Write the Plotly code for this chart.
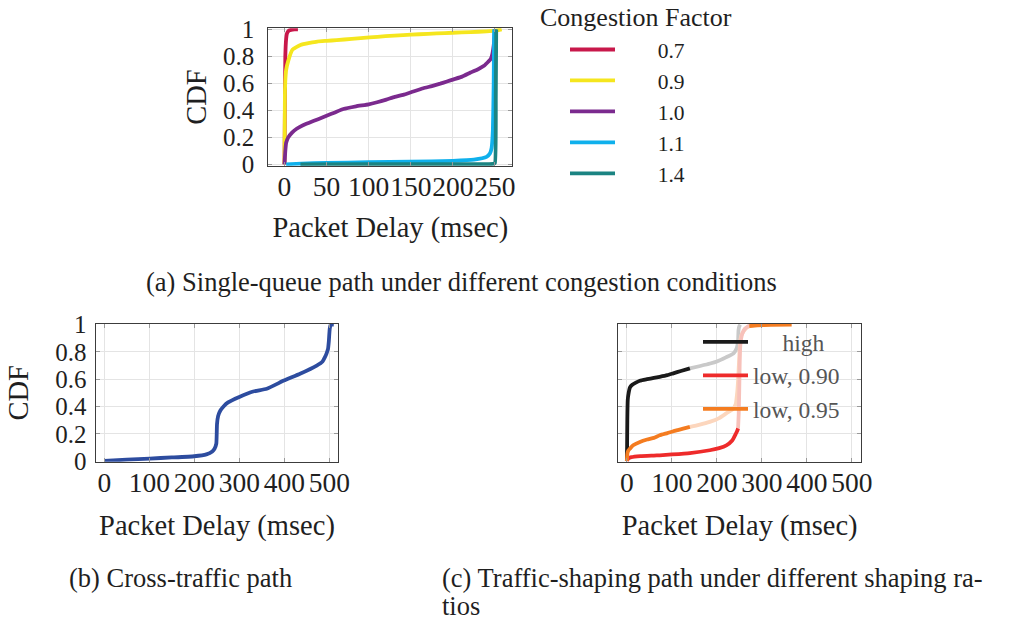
import plotly.graph_objects as go

FONT = "Liberation Serif"
W, H = 1010, 621

# ---- (a) single-queue path, CDF of packet delay per congestion factor ----
cf_names = ["0.7", "0.9", "1.0", "1.1", "1.4"]
cf_colors = ["#c8184b", "#f5e61e", "#7b2a8e", "#0fb0ec", "#1b8482"]

cf07_x = [0, 0.3, 0.6, 1, 2, 3, 5, 8, 12, 16]
cf07_y = [0, 0.2, 0.5, 0.8, 0.93, 0.97, 0.99, 0.997, 1.0, 1.0]

cf09_x = [0, 0.3, 0.6, 1, 2, 4.5, 9.5, 19, 30, 39, 50, 62, 80, 101, 120, 141,
          160, 181, 200, 221, 240, 250, 254, 258]
cf09_y = [0, 0.3, 0.55, 0.62, 0.7, 0.767, 0.85, 0.885, 0.9, 0.91, 0.915, 0.92,
          0.93, 0.94, 0.95, 0.958, 0.964, 0.97, 0.975, 0.98, 0.985, 0.99, 0.995, 1.0]

cf10_x = [0, 0.5, 1, 2, 4.5, 9, 14.5, 22, 30, 40, 50, 60, 70, 85, 100, 110, 121,
          131, 141, 153, 165, 175, 185, 193, 201, 211, 221, 230, 237, 242, 245,
          247, 248.5, 249.5, 250]
cf10_y = [0, 0.05, 0.1, 0.16, 0.2, 0.235, 0.264, 0.29, 0.31, 0.335, 0.36, 0.385,
          0.41, 0.43, 0.445, 0.46, 0.48, 0.5, 0.515, 0.54, 0.564, 0.58, 0.598,
          0.614, 0.63, 0.65, 0.68, 0.705, 0.73, 0.76, 0.78, 0.82, 0.88, 0.95, 1.0]

cf11_x = [2, 20, 50, 100, 150, 200, 225, 240, 244, 246, 247.5, 248.5, 249]
cf11_y = [0, 0.006, 0.01, 0.016, 0.02, 0.026, 0.035, 0.055, 0.08, 0.12, 0.25, 0.6, 1.0]

cf14_x = [19, 100, 200, 248, 250, 251, 251.5]
cf14_y = [0, 0.001, 0.002, 0.004, 0.01, 0.5, 1.0]

# ---- (b) cross-traffic path ----
cross_x = [0, 50, 101, 150, 200, 227, 240, 245, 249, 250.5, 253, 258, 265, 275,
           300, 331, 361, 399, 435, 472, 485, 490, 494, 497, 499, 500, 501, 503, 510]
cross_y = [0, 0.01, 0.018, 0.026, 0.035, 0.049, 0.07, 0.09, 0.127, 0.27, 0.33,
           0.37, 0.40, 0.43, 0.47, 0.51, 0.53, 0.59, 0.64, 0.70, 0.73, 0.76, 0.79,
           0.82, 0.88, 0.93, 0.97, 1.0, 1.0]
cross_color = "#2d4c9f"

# ---- (c) traffic-shaping path: solid part + faded part of each curve ----
shape_names = ["high", "low, 0.90", "low, 0.95"]
shape_colors = ["#1a1a1a", "#ee2b2b", "#f47c20"]
shape_faded = ["#c9c9c9", "#f7c1ba", "#fcd6bd"]

high_x = [0, 0.5, 1, 2, 4, 7, 12, 20, 29, 45, 60, 73, 90, 103, 120, 140]
high_y = [0, 0.1, 0.3, 0.45, 0.5, 0.54, 0.56, 0.575, 0.589, 0.6, 0.61, 0.618,
          0.63, 0.643, 0.66, 0.68]
high_fx = [140, 163, 185, 200, 220, 237, 244, 247, 248, 250, 252]
high_fy = [0.68, 0.697, 0.715, 0.73, 0.76, 0.79, 0.827, 0.88, 0.96, 0.99, 1.0]

low90_x = [0, 3, 10, 30, 60, 73, 100, 140, 184, 205, 221, 234, 242, 245, 247]
low90_y = [0, 0.018, 0.028, 0.036, 0.04, 0.042, 0.048, 0.058, 0.079, 0.095,
           0.115, 0.15, 0.2, 0.22, 0.24]
low90_fx = [247, 248.5, 249.5, 250.5, 252, 256, 262, 270, 277]
low90_fy = [0.24, 0.35, 0.5, 0.7, 0.85, 0.93, 0.97, 0.99, 1.0]
low90_tx = [277, 302]
low90_ty = [1.0, 1.0]

low95_x = [0, 0.5, 1.5, 4, 6.7, 14, 29, 45, 60, 73, 90, 110, 125, 140]
low95_y = [0, 0.03, 0.06, 0.08, 0.09, 0.115, 0.14, 0.158, 0.17, 0.189, 0.205,
           0.225, 0.237, 0.25]
low95_fx = [140, 160, 184, 205, 221, 235, 242, 245, 247, 249, 251, 254, 259,
            265, 272]
low95_fy = [0.25, 0.265, 0.287, 0.315, 0.35, 0.38, 0.42, 0.5, 0.59, 0.72, 0.85,
            0.92, 0.95, 0.975, 0.99]
low95_tx = [272, 290, 320, 366]
low95_ty = [0.99, 0.995, 0.998, 1.0]

# ---- axis ticks ----
cdf_ticks = [0, 0.2, 0.4, 0.6, 0.8, 1]
cdf_labels = ["0", "0.2", "0.4", "0.6", "0.8", "1"]
delay_ticks_a = [0, 50, 100, 150, 200, 250]
delay_ticks_bc = [0, 100, 200, 300, 400, 500]

NB = "\u00a0"

fig = go.Figure()


def line(xs, ys, color, xa, ya, name=None, legend=None, show=False, width=3.8):
    fig.add_trace(go.Scatter(
        x=xs, y=ys, mode="lines", name=name,
        line=dict(color=color, width=width, shape="spline", smoothing=0.4),
        xaxis=xa, yaxis=ya, showlegend=show, legend=legend, hoverinfo="skip"))


# (a) legend labels sit to the right of a wide gap after the sample line
for xs, ys, nm, col in zip([cf07_x, cf09_x, cf10_x, cf11_x, cf14_x],
                           [cf07_y, cf09_y, cf10_y, cf11_y, cf14_y],
                           cf_names, cf_colors):
    line(xs, ys, col, "x", "y", name=NB * 7 + nm, legend="legend", show=True)

# (b)
line(cross_x, cross_y, cross_color, "x2", "y2")

# (c) faded parts first, solid parts on top
line(high_fx, high_fy, shape_faded[0], "x3", "y3")
line(low95_fx, low95_fy, shape_faded[2], "x3", "y3")
line(low90_fx, low90_fy, shape_faded[1], "x3", "y3")
line(low90_tx, low90_ty, shape_colors[1], "x3", "y3")
line(low95_tx, low95_ty, shape_colors[2], "x3", "y3")
line(high_x, high_y, shape_colors[0], "x3", "y3", name=NB * 5 + shape_names[0],
     legend="legend2", show=True)
line(low90_x, low90_y, shape_colors[1], "x3", "y3", name=shape_names[1],
     legend="legend2", show=True)
line(low95_x, low95_y, shape_colors[2], "x3", "y3", name=shape_names[2],
     legend="legend2", show=True)

xtick_font = dict(family=FONT, size=27.5, color="#1f1f1f")
ytick_font = dict(family=FONT, size=25, color="#1f1f1f")
title_font = dict(family=FONT, size=28.5, color="#1f1f1f")

common = dict(showline=True, linecolor="#3c3c3c", linewidth=1.3, mirror="ticks",
              ticks="inside", ticklen=4, tickcolor="#9a9a9a", tickwidth=1,
              showgrid=True, gridcolor="#e4e4e4", gridwidth=1, zeroline=False,
              tickangle=0, fixedrange=True, automargin=False)


def px_x(p):
    return p / W


def px_y(p):
    return 1 - p / H


xa = dict(common, domain=[px_x(268.3), px_x(512.3)], range=[-19.2, 270.6],
          tickvals=delay_ticks_a, ticktext=[str(v) for v in delay_ticks_a],
          tickfont=xtick_font,
          title=dict(text="Packet Delay (msec)", font=title_font, standoff=16),
          anchor="y", ticklabelstandoff=-4)
ya = dict(common, domain=[px_y(165.7), px_y(28.3)], range=[-0.01, 1.008],
          tickvals=cdf_ticks, ticktext=cdf_labels, tickfont=ytick_font,
          title=dict(text="CDF", font=title_font, standoff=7),
          anchor="x", ticklabelstandoff=8)

xb = dict(common, domain=[px_x(95.7), px_x(338.3)], range=[-19, 520],
          tickvals=delay_ticks_bc, ticktext=[str(v) for v in delay_ticks_bc],
          tickfont=xtick_font,
          title=dict(text="Packet Delay (msec)", font=title_font, standoff=18),
          anchor="y2", ticklabelstandoff=-4)
yb = dict(common, domain=[px_y(461.7), px_y(324)], range=[-0.005, 1.005],
          tickvals=cdf_ticks, ticktext=cdf_labels, tickfont=ytick_font,
          title=dict(text="CDF", font=title_font, standoff=18),
          anchor="x2", ticklabelstandoff=3)

xc = dict(common, domain=[px_x(618.3), px_x(861)], range=[-19, 520],
          tickvals=delay_ticks_bc, ticktext=[str(v) for v in delay_ticks_bc],
          tickfont=xtick_font,
          title=dict(text="Packet Delay (msec)", font=title_font, standoff=18),
          anchor="y3", ticklabelstandoff=-4)
yc = dict(common, domain=[px_y(461.7), px_y(324)], range=[-0.005, 1.005],
          tickvals=cdf_ticks, showticklabels=False, anchor="x3")

caption_font = dict(family=FONT, size=26.5, color="#1f1f1f")


def caption(text, x, y, anchor="left"):
    return dict(text=text, xref="paper", yref="paper", x=px_x(x), y=px_y(y),
                xanchor=anchor, yanchor="middle", showarrow=False,
                font=caption_font)


fig.update_layout(
    width=W, height=H, margin=dict(l=0, r=0, t=0, b=0),
    paper_bgcolor="white", plot_bgcolor="white",
    xaxis=xa, yaxis=ya, xaxis2=xb, yaxis2=yb, xaxis3=xc, yaxis3=yc,
    legend=dict(
        x=px_x(565), y=px_y(29), xanchor="left", yanchor="top",
        bgcolor="rgba(0,0,0,0)", borderwidth=0,
        font=dict(family=FONT, size=21.5, color="#1f1f1f"),
        itemwidth=45, tracegroupgap=0),
    legend2=dict(
        x=px_x(698), y=px_y(320), xanchor="left", yanchor="top",
        bgcolor="rgba(0,0,0,0)", borderwidth=0,
        font=dict(family=FONT, size=23.5, color="#555555"),
        itemwidth=45, tracegroupgap=0),
    annotations=[
        dict(text="Congestion Factor",
             xref="paper", yref="paper", x=px_x(636), y=px_y(17),
             xanchor="center", yanchor="middle", showarrow=False,
             font=dict(family=FONT, size=26, color="#1f1f1f")),
        caption("(a) Single-queue path under different congestion conditions",
                461, 282, "center"),
        caption("(b) Cross-traffic path", 67, 578),
        caption("(c) Traffic-shaping path under different shaping ra-", 440, 578),
        caption("tios", 440, 606),
    ],
)

fig.write_html("out.html")
